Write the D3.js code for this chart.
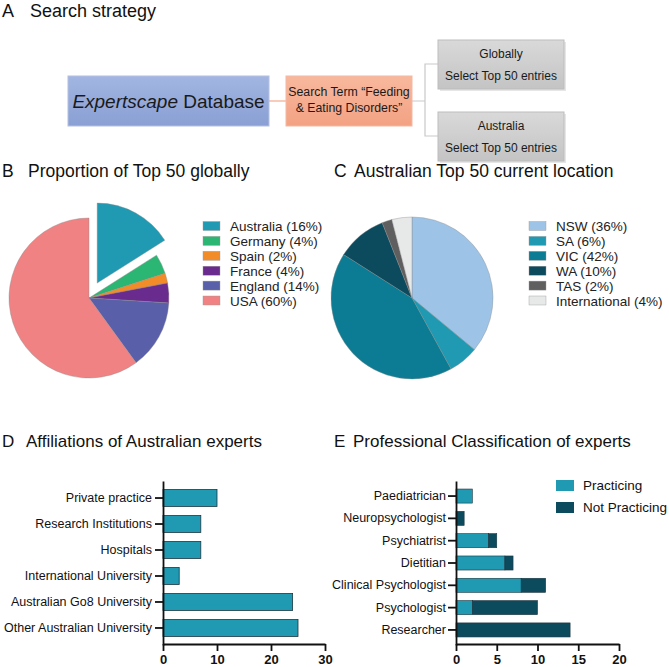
<!DOCTYPE html>
<html>
<head>
<meta charset="utf-8">
<script src="https://cdn.jsdelivr.net/npm/d3@7"></script>
<style>
  body { margin: 0; background: #fff; }
  svg { display: block; font-family: "Liberation Sans", Arial, sans-serif; }
</style>
</head>
<body>
<div class="chart"></div>
<script>
// ---- data ----
const globalCountries = ['Australia', 'Germany', 'Spain', 'France', 'England', 'USA']
const globalPct = [16, 4, 2, 4, 14, 60]
const globalColors = ['#1f9ab2', '#2bb673', '#f28c28', '#6a2b8e', '#5a5fa9', '#f08283']

const ausStates = ['NSW', 'SA', 'VIC', 'WA', 'TAS', 'International']
const ausPct = [36, 6, 42, 10, 2, 4]
const ausColors = ['#9dc3e6', '#1f9ab2', '#0b7c93', '#0c4a5e', '#5f5f5f', '#e7e8e8']

const affiliations = ['Private practice', 'Research Institutions', 'Hospitals',
  'International University', 'Australian Go8 University', 'Other Australian University']
const affiliationCounts = [10, 7, 7, 3, 24, 25]
const dTicks = [0, 10, 20, 30]

const professions = ['Paediatrician', 'Neuropsychologist', 'Psychiatrist', 'Dietitian',
  'Clinical Psychologist', 'Psychologist', 'Researcher']
const practicing = [2, 0, 4, 6, 8, 2, 0]
const notPracticing = [0, 1, 1, 1, 3, 8, 14]
const statusNames = ['Practicing', 'Not Practicing']
const statusColors = ['#1f9ab2', '#0c4a5e']
const eTicks = [0, 5, 10, 15, 20]

const svg = d3.select('.chart')
  .append('svg')
    .attr('width', 669)
    .attr('height', 667)

// panel titles
const titles = [
  {letter: 'A', text: 'Search strategy', x: 2, y: 17, tx: 30, size: 18},
  {letter: 'B', text: 'Proportion of Top 50 globally', x: 2, y: 177, tx: 28, size: 17.5},
  {letter: 'C', text: 'Australian Top 50 current location', x: 334, y: 177, tx: 354, size: 17.5},
  {letter: 'D', text: 'Affiliations of Australian experts', x: 2, y: 447, tx: 26, size: 17},
  {letter: 'E', text: 'Professional Classification of experts', x: 334, y: 447, tx: 353, size: 17}
]
titles.forEach(t => {
  svg.append('text').attr('x', t.x).attr('y', t.y)
    .attr('font-size', t.size).attr('fill', '#111').text(t.letter)
  svg.append('text').attr('x', t.tx).attr('y', t.y)
    .attr('font-size', t.size).attr('fill', '#111').text(t.text)
})

// ======= A: flow diagram ===========
const defs = svg.append('defs')
const grad = (id, c1, c2) => {
  const g = defs.append('linearGradient').attr('id', id)
    .attr('x1', 0).attr('y1', 0).attr('x2', 0).attr('y2', 1)
  g.append('stop').attr('offset', '0%').attr('stop-color', c1)
  g.append('stop').attr('offset', '100%').attr('stop-color', c2)
}
grad('gBlue', '#a3b6e2', '#8a9fd3')
grad('gOrange', '#f8b89d', '#f3a283')
grad('gGrey', '#d9d9d9', '#c4c4c4')

const flow = svg.append('g')
flow.append('line').attr('x1', 269).attr('x2', 286).attr('y1', 101).attr('y2', 101)
  .attr('stroke', '#f4a98a').attr('stroke-width', 1.2)
flow.append('path')
  .attr('d', 'M412,101H425M438,64H425V136H438')
  .attr('fill', 'none').attr('stroke', '#c9c9c9').attr('stroke-width', 1.2)

flow.append('rect').attr('x', 68).attr('y', 76).attr('width', 201).attr('height', 50)
  .attr('fill', 'url(#gBlue)').attr('stroke', '#b4c0e0').attr('stroke-width', 1)
const t1 = flow.append('text').attr('x', 168.5).attr('y', 108)
  .attr('text-anchor', 'middle').attr('font-size', 19).attr('fill', '#1a1a1a')
t1.append('tspan').attr('font-style', 'italic').text('Expertscape')
t1.append('tspan').text(' Database')

flow.append('rect').attr('x', 286).attr('y', 76).attr('width', 126).attr('height', 50)
  .attr('fill', 'url(#gOrange)').attr('stroke', '#f3b9a3').attr('stroke-width', 1)
flow.append('text').attr('x', 349).attr('y', 96).attr('text-anchor', 'middle')
  .attr('font-size', 12.3).attr('fill', '#1a1a1a').text('Search Term “Feeding')
flow.append('text').attr('x', 349).attr('y', 112).attr('text-anchor', 'middle')
  .attr('font-size', 12.3).attr('fill', '#1a1a1a').text('& Eating Disorders”')

const greyBoxes = [
  {y: 40, title: 'Globally'},
  {y: 112, title: 'Australia'}
]
greyBoxes.forEach(b => {
  flow.append('rect').attr('x', 440).attr('y', b.y + 2).attr('width', 126).attr('height', 49)
    .attr('fill', '#e6e6e6')
  flow.append('rect').attr('x', 438).attr('y', b.y).attr('width', 126).attr('height', 49)
    .attr('fill', 'url(#gGrey)').attr('stroke', '#bdbdbd').attr('stroke-width', 1)
  flow.append('text').attr('x', 501).attr('y', b.y + 18).attr('text-anchor', 'middle')
    .attr('font-size', 12).attr('fill', '#1a1a1a').text(b.title)
  flow.append('text').attr('x', 501).attr('y', b.y + 40).attr('text-anchor', 'middle')
    .attr('font-size', 12).attr('fill', '#1a1a1a').text('Select Top 50 entries')
})

// ======= B & C: pies ===========
const drawPie = (cx, cy, r, names, values, colors, explode, lx) => {
  const g = svg.append('g').attr('transform', `translate(${cx}, ${cy})`)
  const pie = d3.pie().sort(null).value(d => d)
  const arc = d3.arc().innerRadius(0).outerRadius(r)
  g.selectAll('path')
    .data(pie(values))
    .enter()
    .append('path')
      .attr('d', arc)
      .attr('fill', (d, i) => colors[i])
      .attr('stroke', '#8a8a8a')
      .attr('stroke-width', 0.4)
      .attr('transform', (d, i) => {
        if (i !== explode) return null
        const mid = (d.startAngle + d.endAngle) / 2
        return `translate(${Math.sin(mid) * 17}, ${-Math.cos(mid) * 17})`
      })

  // legend
  const leg = svg.append('g').attr('transform', `translate(${lx}, 226)`)
  names.forEach((n, i) => {
    leg.append('rect').attr('x', 0).attr('y', i * 14.9 - 4.5).attr('width', 17).attr('height', 9)
      .attr('fill', colors[i]).attr('stroke', '#999').attr('stroke-width', 0.4)
    leg.append('text').attr('x', 27).attr('y', i * 14.9 + 5)
      .attr('font-size', 13.5).attr('fill', '#222').text(`${n} (${values[i]}%)`)
  })
}
drawPie(89, 298, 80, globalCountries, globalPct, globalColors, 0, 203)
drawPie(412, 298, 81, ausStates, ausPct, ausColors, -1, 529)

// ======= D: horizontal bars ===========
const dX = d3.scaleLinear().domain([0, 30]).range([163, 325])
const dY = d3.scaleBand().domain(affiliations).range([481, 645])
  .paddingInner(0.35).paddingOuter(0.33)

const dg = svg.append('g')
dg.selectAll('rect')
  .data(affiliations)
  .enter()
  .append('rect')
    .attr('x', dX(0))
    .attr('y', d => dY(d))
    .attr('width', (d, i) => dX(affiliationCounts[i]) - dX(0))
    .attr('height', dY.bandwidth())
    .attr('fill', '#1f9ab2')
    .attr('stroke', '#1d3540')
    .attr('stroke-width', 0.8)

const styleAxis = (sel, bold) => {
  sel.select('.domain').attr('stroke', '#111').attr('stroke-width', 1.8)
  sel.selectAll('.tick line').attr('stroke', '#111').attr('stroke-width', 1.8)
  sel.selectAll('.tick text').attr('fill', '#111')
    .attr('font-family', '"Liberation Sans", Arial, sans-serif')
    .attr('font-size', bold ? 13 : 12.5)
    .attr('font-weight', bold ? 'bold' : 'normal')
}

svg.append('g')
  .attr('transform', `translate(0, 644)`)
  .call(d3.axisBottom(dX).tickValues(dTicks).tickSize(7).tickPadding(4).tickSizeOuter(0))
  .call(sel => styleAxis(sel, true))
svg.append('g')
  .attr('transform', `translate(163, 0)`)
  .call(d3.axisLeft(dY).tickSize(8).tickPadding(3).tickSizeOuter(0))
  .call(sel => styleAxis(sel, false))

// ======= E: stacked horizontal bars ===========
const eX = d3.scaleLinear().domain([0, 20]).range([456, 619])
const eY = d3.scaleBand().domain(professions).range([481, 645])
  .paddingInner(0.37).paddingOuter(0.36)

const stackData = professions.map((p, i) => ({name: p, Practicing: practicing[i], 'Not Practicing': notPracticing[i]}))
const series = d3.stack().keys(statusNames)(stackData)

svg.append('g')
  .selectAll('g')
  .data(series)
  .enter()
  .append('g')
    .attr('fill', (d, i) => statusColors[i])
  .selectAll('rect')
  .data(d => d.filter(v => v[1] > v[0]))
  .enter()
  .append('rect')
    .attr('x', d => eX(d[0]))
    .attr('y', d => eY(d.data.name))
    .attr('width', d => eX(d[1]) - eX(d[0]))
    .attr('height', eY.bandwidth())
    .attr('stroke', '#1d3540')
    .attr('stroke-width', 0.6)

svg.append('g')
  .attr('transform', `translate(0, 644)`)
  .call(d3.axisBottom(eX).tickValues(eTicks).tickSize(7).tickPadding(4).tickSizeOuter(0))
  .call(sel => styleAxis(sel, true))
svg.append('g')
  .attr('transform', `translate(456, 0)`)
  .call(d3.axisLeft(eY).tickSize(8).tickPadding(2).tickSizeOuter(0))
  .call(sel => styleAxis(sel, false))

// legend E
const eLeg = svg.append('g').attr('transform', 'translate(556, 480)')
statusNames.forEach((n, i) => {
  eLeg.append('rect').attr('x', 0).attr('y', i * 22).attr('width', 18).attr('height', 11)
    .attr('fill', statusColors[i])
  eLeg.append('text').attr('x', 27).attr('y', i * 22 + 10)
    .attr('font-size', 13.5).attr('fill', '#111').text(n)
})
</script>
</body>
</html>
